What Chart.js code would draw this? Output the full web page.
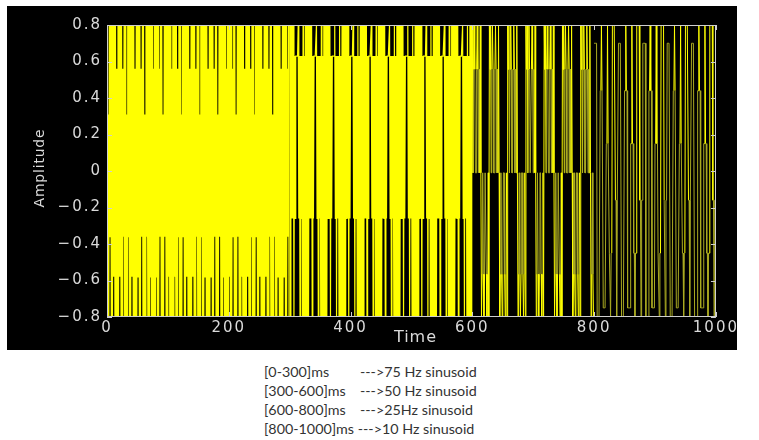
<!DOCTYPE html>
<html>
<head>
<meta charset="utf-8">
<script src="https://cdn.jsdelivr.net/npm/chart.js@4.4.1/dist/chart.umd.min.js"></script>
<style>
  html, body { margin: 0; padding: 0; background: #fff; }
  #painel { position: absolute; left: 7px; top: 6px; width: 730px; height: 344px; background: #000; }
  #notas { position: absolute; left: 264px; top: 362px; font-family: Lato, 'Open Sans', sans-serif; font-size: 14.3px; line-height: 19px; color: #333; white-space: nowrap; }
  #notas span.faixa { display: inline-block; width: 96px; }
</style>
</head>
<body>
<div id="painel"><canvas id="graficoSinal"></canvas></div>
<div id="notas"></div>
<script>
// eixos
const xTicks = [0, 200, 400, 600, 800, 1000];
const yTicks = [-0.8, -0.6, -0.4, -0.2, 0, 0.2, 0.4, 0.6, 0.8];
const yTickLabels = ['\u22120.8', '\u22120.6', '\u22120.4', '\u22120.2', '0', '0.2', '0.4', '0.6', '0.8'];
const axisTitles = { x: 'Time', y: 'Amplitude' };

// trechos do sinal (ms) e legenda de baixo
const segmentStart = [0, 300, 600, 800];
const sampleStep = 1; // 1 amostra por ms
const segmentRanges = ['[0-300]ms', '[300-600]ms', '[600-800]ms', '[800-1000]ms'];
const segmentNotes = ['--->75 Hz sinusoid', '--->50 Hz sinusoid', '--->25Hz sinusoid', '--->10 Hz sinusoid'];

// amplitudes, uma por ms
const amp75 = [
  0.8,-0.8,0.31,-0.8,0.8,-0.36,0.8,-0.8,0.8,-0.8,0.8,-0.58,0.8,-0.8,0.8,-0.8,0.56,-0.8,0.8,-0.8,0.8,-0.58,0.8,-0.8,0.8,-0.8,0.56,-0.36,0.8,-0.8,
  0.8,-0.8,0.31,-0.8,0.8,-0.36,0.8,-0.8,0.8,-0.8,0.8,-0.58,0.8,-0.8,0.8,-0.8,0.56,-0.8,0.8,-0.8,0.8,-0.58,0.8,-0.8,0.8,-0.8,0.56,-0.36,0.8,-0.8,
  0.8,-0.8,0.31,-0.8,0.8,-0.36,0.8,-0.8,0.8,-0.8,0.8,-0.58,0.8,-0.8,0.8,-0.8,0.56,-0.8,0.8,-0.8,0.8,-0.58,0.8,-0.8,0.8,-0.8,0.56,-0.36,0.8,-0.8,
  0.8,-0.8,0.31,-0.8,0.8,-0.36,0.8,-0.8,0.8,-0.8,0.8,-0.58,0.8,-0.8,0.8,-0.8,0.56,-0.8,0.8,-0.8,0.8,-0.58,0.8,-0.8,0.8,-0.8,0.56,-0.36,0.8,-0.8,
  0.8,-0.8,0.31,-0.8,0.8,-0.36,0.8,-0.8,0.8,-0.8,0.8,-0.58,0.8,-0.8,0.8,-0.8,0.56,-0.8,0.8,-0.8,0.8,-0.58,0.8,-0.8,0.8,-0.8,0.56,-0.36,0.8,-0.8,
  0.8,-0.8,0.31,-0.8,0.8,-0.36,0.8,-0.8,0.8,-0.8,0.8,-0.58,0.8,-0.8,0.8,-0.8,0.56,-0.8,0.8,-0.8,0.8,-0.58,0.8,-0.8,0.8,-0.8,0.56,-0.36,0.8,-0.8,
  0.8,-0.8,0.31,-0.8,0.8,-0.36,0.8,-0.8,0.8,-0.8,0.8,-0.58,0.8,-0.8,0.8,-0.8,0.56,-0.8,0.8,-0.8,0.8,-0.58,0.8,-0.8,0.8,-0.8,0.56,-0.36,0.8,-0.8,
  0.8,-0.8,0.31,-0.8,0.8,-0.36,0.8,-0.8,0.8,-0.8,0.8,-0.58,0.8,-0.8,0.8,-0.8,0.56,-0.8,0.8,-0.8,0.8,-0.58,0.8,-0.8,0.8,-0.8,0.56,-0.36,0.8,-0.8,
  0.8,-0.8,0.31,-0.8,0.8,-0.36,0.8,-0.8,0.8,-0.8,0.8,-0.58,0.8,-0.8,0.8,-0.8,0.56,-0.8,0.8,-0.8,0.8,-0.58,0.8,-0.8,0.8,-0.8,0.56,-0.36,0.8,-0.8,
  0.8,-0.8,0.31,-0.8,0.8,-0.36,0.8,-0.8,0.8,-0.8,0.8,-0.58,0.8,-0.8,0.8,-0.8,0.56,-0.8,0.8,-0.8,0.8,-0.58,0.8,-0.8,0.8,-0.8,0.56,-0.36,0.8,-0.8
];
const amp50 = [
  0.8,-0.8,0.8,-0.26,0.8,-0.26,0.8,-0.8,0.63,-0.26,0.63,0.63,0.63,0.63,0.8,-0.26,0.63,-0.8,0.63,-0.26,0.63,-0.8,0.8,-0.8,0.63,-0.8,0.8,-0.8,0.8,-0.8,
  0.8,-0.8,0.8,-0.26,0.8,-0.26,0.8,-0.8,0.63,-0.26,0.63,0.63,0.63,0.63,0.8,-0.26,0.63,-0.8,0.63,-0.26,0.63,-0.8,0.8,-0.8,0.63,-0.8,0.8,-0.8,0.8,-0.8,
  0.8,-0.8,0.8,-0.26,0.8,-0.26,0.8,-0.8,0.63,-0.26,0.63,0.63,0.63,0.63,0.8,-0.26,0.63,-0.8,0.63,-0.26,0.63,-0.8,0.8,-0.8,0.63,-0.8,0.8,-0.8,0.8,-0.8,
  0.8,-0.8,0.8,-0.26,0.8,-0.26,0.8,-0.8,0.63,-0.26,0.63,0.63,0.63,0.63,0.8,-0.26,0.63,-0.8,0.63,-0.26,0.63,-0.8,0.8,-0.8,0.63,-0.8,0.8,-0.8,0.8,-0.8,
  0.8,-0.8,0.8,-0.26,0.8,-0.26,0.8,-0.8,0.63,-0.26,0.63,0.63,0.63,0.63,0.8,-0.26,0.63,-0.8,0.63,-0.26,0.63,-0.8,0.8,-0.8,0.63,-0.8,0.8,-0.8,0.8,-0.8,
  0.8,-0.8,0.8,-0.26,0.8,-0.26,0.8,-0.8,0.63,-0.26,0.63,0.63,0.63,0.63,0.8,-0.26,0.63,-0.8,0.63,-0.26,0.63,-0.8,0.8,-0.8,0.63,-0.8,0.8,-0.8,0.8,-0.8,
  0.8,-0.8,0.8,-0.26,0.8,-0.26,0.8,-0.8,0.63,-0.26,0.63,0.63,0.63,0.63,0.8,-0.26,0.63,-0.8,0.63,-0.26,0.63,-0.8,0.8,-0.8,0.63,-0.8,0.8,-0.8,0.8,-0.8,
  0.8,-0.8,0.8,-0.26,0.8,-0.26,0.8,-0.8,0.63,-0.26,0.63,0.63,0.63,0.63,0.8,-0.26,0.63,-0.8,0.63,-0.26,0.63,-0.8,0.8,-0.8,0.63,-0.8,0.8,-0.8,0.8,-0.8,
  0.8,-0.8,0.8,-0.26,0.8,-0.26,0.8,-0.8,0.63,-0.26,0.63,0.63,0.63,0.63,0.8,-0.26,0.63,-0.8,0.63,-0.26,0.63,-0.8,0.8,-0.8,0.63,-0.8,0.8,-0.8,0.8,-0.8,
  0.8,-0.8,0.8,-0.26,0.8,-0.26,0.8,-0.8,0.63,-0.26,0.63,0.63,0.63,0.63,0.8,-0.26,0.63,-0.8,0.63,-0.26,0.63,-0.8,0.8,-0.8,0.63,-0.8,0.8,-0.8,0.8,-0.8
];
const amp25 = [
  0.8,-0.01,0.557,0.8,0.557,-0.01,-0.01,0.557,0.8,0.557,-0.01,0.557,-0.01,0.8,-0.01,-0.8,-0.565,-0.01,-0.565,-0.8,-0.565,-0.01,-0.01,-0.565,-0.8,-0.565,-0.01,-0.8,0.8,0.557,
  0.8,-0.01,0.557,0.8,0.557,-0.01,-0.01,0.557,0.8,0.557,-0.01,0.557,-0.01,0.8,-0.01,-0.8,-0.565,-0.01,-0.565,-0.8,-0.565,-0.01,-0.01,-0.565,-0.8,-0.565,-0.01,-0.8,0.8,0.557,
  0.8,-0.01,0.557,0.8,0.557,-0.01,-0.01,0.557,0.8,0.557,-0.01,0.557,-0.01,0.8,-0.01,-0.8,-0.565,-0.01,-0.565,-0.8,-0.565,-0.01,-0.01,-0.565,-0.8,-0.565,-0.01,-0.8,0.8,0.557,
  0.8,-0.01,0.557,0.8,0.557,-0.01,-0.01,0.557,0.8,0.557,-0.01,0.557,-0.01,0.8,-0.01,-0.8,-0.565,-0.01,-0.565,-0.8,-0.565,-0.01,-0.01,-0.565,-0.8,-0.565,-0.01,-0.8,0.8,0.557,
  0.8,-0.01,0.557,0.8,0.557,-0.01,-0.01,0.557,0.8,0.557,-0.01,0.557,-0.01,0.8,-0.01,-0.8,-0.565,-0.01,-0.565,-0.8,-0.565,-0.01,-0.01,-0.565,-0.8,-0.565,-0.01,-0.8,0.8,0.557,
  0.8,-0.01,0.557,0.8,0.557,-0.01,-0.01,0.557,0.8,0.557,-0.01,0.557,-0.01,0.8,-0.01,-0.8,-0.565,-0.01,-0.565,-0.8,-0.565,-0.01,-0.01,-0.565,-0.8,-0.565,-0.01,-0.8,0.8,0.557,
  0.8,-0.01,0.557,0.8,0.557,-0.01,-0.01,0.557,0.8,0.557,-0.01,0.557,-0.01,0.8,-0.01,-0.8,-0.565,-0.01,-0.565,-0.8
];
const amp10 = [
  0.7,0.7,0.7,0.7,0.7,-0.8,-0.8,-0.8,-0.8,-0.8,0.44,0.44,0.8,0.44,0.44,-0.75,-0.75,-0.75,-0.75,-0.75,0.15,0.15,0.8,0.15,0.15,-0.45,-0.45,-0.8,-0.45,-0.45,0.8,0.8,0.8,0.8,0.8,-0.16,-0.16,-0.8,-0.16,-0.16,
  0.7,0.7,0.7,0.7,0.7,-0.8,-0.8,-0.8,-0.8,-0.8,0.44,0.44,0.8,0.44,0.44,-0.75,-0.75,-0.75,-0.75,-0.75,0.15,0.15,0.8,0.15,0.15,-0.45,-0.45,-0.8,-0.45,-0.45,0.8,0.8,0.8,0.8,0.8,-0.16,-0.16,-0.8,-0.16,-0.16,
  0.7,0.7,0.7,0.7,0.7,-0.8,-0.8,-0.8,-0.8,-0.8,0.44,0.44,0.8,0.44,0.44,-0.75,-0.75,-0.75,-0.75,-0.75,0.15,0.15,0.8,0.15,0.15,-0.45,-0.45,-0.8,-0.45,-0.45,0.8,0.8,0.8,0.8,0.8,-0.16,-0.16,-0.8,-0.16,-0.16,
  0.7,0.7,0.7,0.7,0.7,-0.8,-0.8,-0.8,-0.8,-0.8,0.44,0.44,0.8,0.44,0.44,-0.75,-0.75,-0.75,-0.75,-0.75,0.15,0.15,0.8,0.15,0.15,-0.45,-0.45,-0.8,-0.45,-0.45,0.8,0.8,0.8,0.8,0.8,-0.16,-0.16,-0.8,-0.16,-0.16,
  0.7,0.7,0.7,0.7,0.7,-0.8,-0.8,-0.8,-0.8,-0.8,0.44,0.44,0.8,0.44,0.44,-0.75,-0.75,-0.75,-0.75,-0.75,0.15,0.15,0.8,0.15,0.15,-0.45,-0.45,-0.8,-0.45,-0.45,0.8,0.8,0.8,0.8,0.8,-0.16,-0.16,-0.8,-0.16,-0.16,
  0.7
];

document.addEventListener("DOMContentLoaded", () => {
  // legenda em texto embaixo do grafico
  const notas = document.getElementById('notas');
  segmentRanges.forEach((faixa, i) => {
    const linha = document.createElement('div');
    if (i < segmentRanges.length - 1) {
      const s = document.createElement('span');
      s.className = 'faixa';
      s.textContent = faixa;
      linha.appendChild(s);
      linha.appendChild(document.createTextNode(segmentNotes[i]));
    } else {
      linha.textContent = faixa + ' ' + segmentNotes[i];
    }
    notas.appendChild(linha);
  });

  Chart.defaults.font.family = "'DejaVu Sans', sans-serif";

  const toPoints = (vals, k) => vals.map((v, i) => ({ x: segmentStart[k] + i * sampleStep, y: v }));

  // traços que chegam no pico ficam amarelo vivo, o resto mais apagado
  const amarelo = '#ffff00';
  const oliva = '#aaaa22';
  const corPico = s => (Math.abs(s.p0.parsed.y) > 0.79 || Math.abs(s.p1.parsed.y) > 0.79) ? amarelo : oliva;
  const corTopo = s => (s.p0.parsed.y > 0.79 || s.p1.parsed.y > 0.79) ? amarelo : oliva;

  // moldura estilo matlab: caixa, ticks para dentro e titulos dos eixos
  const moldura = {
    id: 'moldura',
    beforeDraw(chart) {
      chart.ctx.letterSpacing = '2px';
    },
    afterDatasetsDraw(chart) {
      const { ctx, chartArea: a, scales: { x, y } } = chart;
      ctx.save();
      ctx.strokeStyle = '#cfcfcf';
      ctx.lineWidth = 1;
      ctx.strokeRect(Math.round(a.left) + 0.5, Math.round(a.top) + 0.5, Math.round(a.right - a.left) - 1, Math.round(a.bottom - a.top) - 1);
      ctx.beginPath();
      xTicks.forEach(v => {
        const px = Math.round(x.getPixelForValue(v)) + 0.5;
        ctx.moveTo(px, a.bottom); ctx.lineTo(px, a.bottom - 5);
        ctx.moveTo(px, a.top); ctx.lineTo(px, a.top + 5);
      });
      yTicks.forEach(v => {
        const py = Math.round(y.getPixelForValue(v)) + 0.5;
        ctx.moveTo(a.left, py); ctx.lineTo(a.left + 5, py);
        ctx.moveTo(a.right, py); ctx.lineTo(a.right - 5, py);
      });
      ctx.stroke();
      ctx.restore();
    },
    afterDraw(chart) {
      const { ctx, chartArea: a } = chart;
      ctx.save();
      ctx.fillStyle = '#dadada';
      ctx.textAlign = 'center';
      ctx.textBaseline = 'middle';
      ctx.letterSpacing = '1px';
      ctx.font = "16px 'DejaVu Sans'";
      ctx.fillText(axisTitles.x, (a.left + a.right) / 2 + 4, a.bottom + 21);
      ctx.letterSpacing = '0.8px';
      ctx.font = "14px 'DejaVu Sans'";
      ctx.translate(33, (a.top + a.bottom) / 2 - 3);
      ctx.rotate(-Math.PI / 2);
      ctx.fillText(axisTitles.y, 0, 0);
      ctx.restore();
    }
  };

  const ctx = document.getElementById('graficoSinal').getContext('2d');

  const config = {
    type: 'line',
    data: {
      datasets: [
        { label: '75 Hz', data: toPoints(amp75, 0), borderColor: amarelo, borderWidth: 1.2, pointRadius: 0, tension: 0 },
        { label: '50 Hz', data: toPoints(amp50, 1), borderColor: amarelo, borderWidth: 1.2, pointRadius: 0, tension: 0 },
        { label: '25 Hz', data: toPoints(amp25, 2), borderColor: amarelo, borderWidth: 1, pointRadius: 0, tension: 0, segment: { borderColor: corPico } },
        { label: '10 Hz', data: toPoints(amp10, 3), borderColor: amarelo, borderWidth: 1, pointRadius: 0, tension: 0, segment: { borderColor: corTopo } }
      ]
    },
    options: {
      responsive: true,
      maintainAspectRatio: false,
      animation: false,
      devicePixelRatio: 1,
      layout: { padding: { left: 0, right: 19, top: 19, bottom: 0 } },
      plugins: { legend: { display: false }, tooltip: { enabled: false } },
      scales: {
        x: {
          type: 'linear', min: 0, max: 1000,
          afterBuildTicks: s => { s.ticks = xTicks.map(v => ({ value: v })); },
          afterFit: s => { s.height = 33; },
          grid: { display: false, drawTicks: false },
          border: { display: false },
          ticks: { color: '#dadada', font: { size: 15 }, padding: 2, maxRotation: 0, autoSkip: false, callback: v => String(v) }
        },
        y: {
          type: 'linear', min: -0.8, max: 0.8,
          afterBuildTicks: s => { s.ticks = yTicks.map(v => ({ value: v })); },
          afterFit: s => { s.width = 100; },
          grid: { display: false, drawTicks: false },
          border: { display: false },
          ticks: { color: '#dadada', font: { size: 15 }, padding: 5, autoSkip: false, callback: (v, i) => yTickLabels[i] }
        }
      }
    },
    plugins: [moldura]
  };

  new Chart(ctx, config);
});
</script>
</body>
</html>
